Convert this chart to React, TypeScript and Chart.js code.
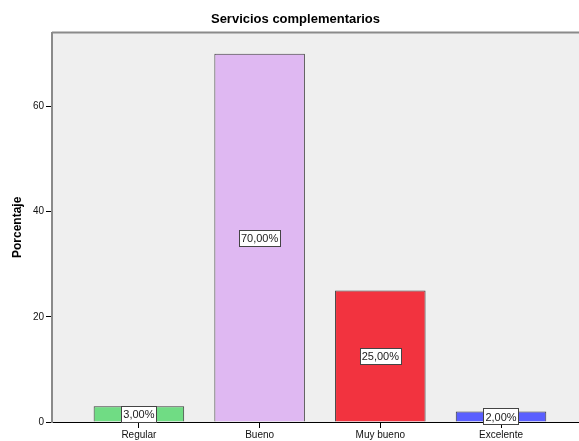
import React, { useEffect, useRef } from "react";
import { Chart, registerables } from "chart.js";

Chart.register(...registerables);

const categories = ["Regular", "Bueno", "Muy bueno", "Excelente"];
const values = [3, 70, 25, 2];
const valueLabels = ["3,00%", "70,00%", "25,00%", "2,00%"];
const barColors = ["#70DC84", "#DFB8F2", "#F2333F", "#5A5FFF"];
const yTicks = [0, 20, 40, 60];

const FONT = 'Arial, "Liberation Sans", sans-serif';

const bgPlugin = {
  id: "plotBg",
  beforeDraw(chart: any) {
    const { ctx, chartArea } = chart;
    ctx.save();
    ctx.fillStyle = "#EFEFEF";
    ctx.fillRect(chartArea.left, chartArea.top, chartArea.right - chartArea.left, chartArea.bottom - chartArea.top);
    ctx.strokeStyle = "#8A8A8A";
    ctx.lineWidth = 2;
    ctx.beginPath();
    ctx.moveTo(chartArea.left, chartArea.top);
    ctx.lineTo(chartArea.right, chartArea.top);
    ctx.stroke();
    ctx.restore();
  },
};

const labelPlugin = {
  id: "valueLabels",
  afterDatasetsDraw(chart: any) {
    const { ctx } = chart;
    const meta = chart.getDatasetMeta(0);
    ctx.save();
    ctx.font = "11px " + FONT;
    ctx.textAlign = "center";
    ctx.textBaseline = "middle";
    meta.data.forEach((el: any, i: number) => {
      const txt = valueLabels[i];
      const cx = el.x;
      const cy = (el.y + el.base) / 2;
      const w = ctx.measureText(txt).width + 4;
      const h = 16;
      ctx.fillStyle = "#FFFFFF";
      ctx.fillRect(Math.round(cx - w / 2) + 0.5, Math.round(cy - h / 2) + 0.5, Math.round(w), h);
      ctx.strokeStyle = "#444444";
      ctx.lineWidth = 1;
      ctx.strokeRect(Math.round(cx - w / 2) + 0.5, Math.round(cy - h / 2) + 0.5, Math.round(w), h);
      ctx.fillStyle = "#222222";
      ctx.fillText(txt, cx, cy + 1);
    });
    ctx.restore();
  },
};

export default function App() {
  const ref = useRef<HTMLCanvasElement | null>(null);

  useEffect(() => {
    document.body.style.margin = "0";
    const canvas = ref.current;
    if (!canvas) return;
    const chart = new Chart(canvas, {
      type: "bar",
      data: {
        datasets: [
          {
            data: categories.map((c, i) => ({ x: i, y: values[i] })),
            backgroundColor: barColors,
            borderColor: "#3C3C3C",
            borderWidth: 1,
            categoryPercentage: 1,
            barPercentage: 0.75,
          } as any,
        ],
      },
      options: {
        animation: false,
        responsive: false,
        maintainAspectRatio: false,
        layout: { padding: { left: 12, right: 0, top: 0, bottom: 0 } },
        plugins: {
          legend: { display: false },
          tooltip: { enabled: false },
          title: {
            display: true,
            text: "Servicios complementarios",
            color: "#000000",
            font: { family: FONT, size: 13, weight: "bold" },
            padding: { top: 12, bottom: 5 },
          },
        },
        scales: {
          x: {
            type: "linear",
            offset: false,
            min: -0.72,
            max: 3.646,
            afterBuildTicks: (scale: any) => {
              scale.ticks = categories.map((c, i) => ({ value: i }));
            },
            afterFit: (scale: any) => {
              scale.height = 19;
            },
            ticks: {
              autoSkip: false,
              maxRotation: 0,
              padding: 1,
              color: "#111111",
              font: { family: FONT, size: 10 },
              callback: (v: any) => categories[v] ?? "",
            },
            grid: {
              display: true,
              offset: false,
              drawOnChartArea: false,
              drawTicks: true,
              tickLength: 6,
              tickColor: "#000000",
            },
            border: { display: true, color: "#000000", width: 1 },
          },
          y: {
            min: 0,
            max: 74,
            afterBuildTicks: (scale: any) => {
              scale.ticks = yTicks.map((v) => ({ value: v }));
            },
            afterFit: (scale: any) => {
              scale.width = 40;
            },
            ticks: {
              padding: 2,
              color: "#111111",
              font: { family: FONT, size: 10 },
            },
            grid: {
              display: true,
              drawOnChartArea: false,
              drawTicks: true,
              tickLength: 6,
              tickColor: "#000000",
            },
            border: { display: true, color: "#8A8A8A", width: 2 },
            title: {
              display: true,
              text: "Porcentaje",
              color: "#000000",
              font: { family: FONT, size: 12, weight: "bold" },
              padding: { top: -2, bottom: 0 },
            },
          },
        },
      },
      plugins: [bgPlugin, labelPlugin],
    } as any);
    return () => chart.destroy();
  }, []);

  return (
    <div style={{ width: 579, height: 441 }}>
      <canvas ref={ref} width={579} height={441} style={{ display: "block", width: 579, height: 441 }} />
    </div>
  );
}
